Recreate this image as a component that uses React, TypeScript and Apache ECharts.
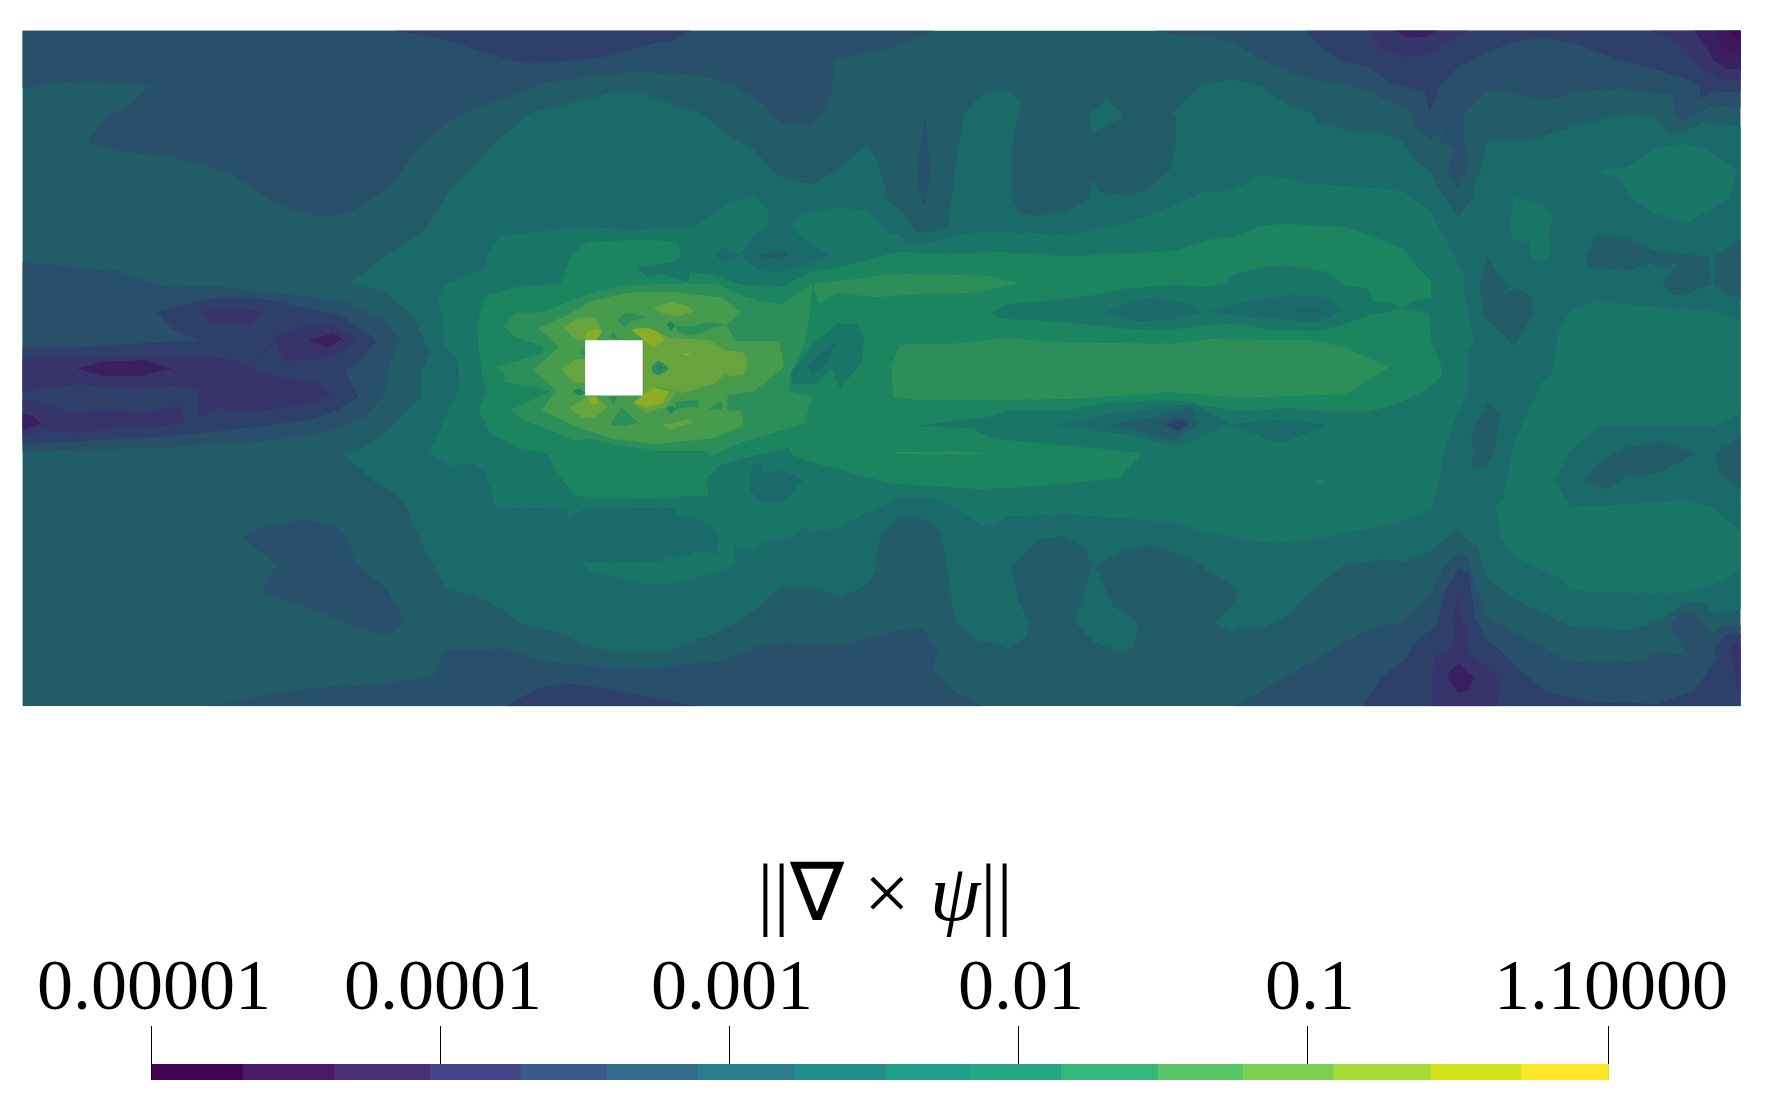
import React, { useEffect, useRef } from "react";
import * as echarts from "echarts";

// Contour levels of the field, darkest to lightest
const levelColors: Record<string, string> = {
  "-1": "#420a59", "0": "#3d1860", "1": "#3b2061", "2": "#36346a", "3": "#2e4069", "4": "#28506b", "5": "#225c69",
  "6": "#1b6a6a", "7": "#197666", "8": "#1c845f", "9": "#2c8f59", "10": "#479b4d", "11": "#67a43d", "12": "#8bae26",
};

// Domain extents (x from 20 to 1540.5, y from 27 to 625)
const domainX = [20, 1540.5];
const domainY = [27, 625];
const domain = [20,27, 1541,27, 1541,625, 20,625];
const obstacle = [518,301, 569,301, 569,350, 518,350];

// Contour regions: flat x,y lists in domain coordinates
const l4TopLeft = [20,27, 827,27, 790,43, 739,52, 736,84, 727,102, 718,113, 708,110, 693,110, 683,102, 678,93, 647,75, 627,68, 566,63, 522,68, 481,74, 451,86, 420,96, 397,108, 373,128, 346,164, 322,181, 308,189, 288,192, 261,187, 241,178, 207,156, 180,146, 146,138, 102,133, 77,126, 95,103, 117,91, 132,76, 85,72, 44,74, 20,78];
const l4LeftWedge = [20,232, 68,236, 105,240, 139,252, 166,254, 197,254, 237,258, 271,262, 305,267, 339,282, 354,301, 346,319, 339,351, 322,369, 295,381, 247,389, 170,395, 20,400];
const l4Blob = [214,475, 237,465, 268,460, 295,464, 307,474, 315,497, 325,508, 342,520, 359,551, 344,562, 314,555, 292,545, 232,525, 237,511, 245,500];
const l4BottomMid = [183,625, 254,611, 346,604, 383,599, 393,575, 447,574, 485,586, 522,589, 566,592, 620,587, 644,584, 671,571, 695,568, 746,570, 790,559, 817,556, 830,575, 826,592, 842,610, 869,625];
const l4TopRight = [1024,27, 1037,31, 1068,32, 1091,37, 1110,49, 1139,63, 1166,72, 1190,74, 1217,83, 1227,89, 1247,96, 1254,114, 1266,124, 1278,115, 1274,126, 1287,130, 1282,151, 1291,167, 1301,142, 1296,125, 1296,112, 1295,102, 1317,80, 1339,83, 1367,88, 1381,87, 1393,82, 1434,78, 1457,83, 1483,84, 1482,100, 1486,106, 1491,106, 1515,94, 1541,95, 1541,27];
const l4BottomRight = [1093,625, 1135,601, 1203,561, 1220,554, 1240,551, 1268,523, 1278,502, 1291,489, 1300,493, 1301,502, 1317,546, 1339,559, 1390,585, 1423,586, 1451,585, 1467,577, 1493,579, 1478,551, 1491,542, 1501,542, 1517,562, 1522,554, 1541,553, 1541,625];
const l3TopLeft = [349,27, 390,34, 427,46, 464,56, 492,55, 522,52, 542,49, 583,37, 593,37, 612,27];
const l3TopRight = [1156,27, 1171,44, 1186,53, 1213,60, 1232,74, 1261,81, 1266,99, 1274,77, 1291,59, 1315,47, 1342,37, 1366,33, 1393,38, 1434,53, 1471,63, 1491,69, 1505,77, 1505,87, 1518,81, 1541,81, 1541,27];
const l3Left = [20,307, 58,308, 102,305, 176,301, 153,292, 139,276, 173,267, 197,263, 231,264, 264,271, 302,279, 334,301, 314,324, 305,327, 317,351, 295,365, 271,372, 200,381, 136,387, 20,393];
const l3BottomA = [447,625, 475,610, 498,605, 522,607, 566,615, 617,625];
const l3BottomB = [1207,625, 1223,599, 1244,584, 1254,567, 1271,555, 1278,526, 1291,503, 1301,508, 1305,543, 1315,565, 1329,576, 1342,590, 1368,612, 1410,621, 1468,623, 1501,610, 1520,582, 1518,573, 1529,561, 1541,561, 1541,625];
const l2Top = [1212,27, 1223,44, 1244,51, 1267,47, 1300,27];
const l2TopRight = [1462,27, 1491,41, 1501,56, 1522,71, 1541,71, 1541,27];
const l2BlobA = [178,276, 197,271, 234,276, 220,289, 203,285, 186,286];
const l2BlobB = [222,323, 246,296, 271,288, 295,288, 315,301, 293,317, 251,320, 244,301];
const l2BandUpper = [20,317, 68,316, 118,314, 180,315, 210,319, 237,332, 281,338, 293,350, 275,357, 234,363, 207,365, 195,360, 176,370, 176,345, 153,341, 115,344, 71,340, 44,343, 20,347];
const l2BandLower = [20,353, 44,357, 58,364, 81,363, 108,363, 122,366, 159,359, 164,375, 119,378, 68,383, 37,381, 20,387];
const l2Bottom = [1268,625, 1268,598, 1271,580, 1288,571, 1287,549, 1291,524, 1294,549, 1300,558, 1300,576, 1325,598, 1329,612, 1323,625];
const l2RightEdge = [1541,570, 1534,570, 1531,576, 1538,598, 1535,599, 1541,614];
const l1Top = [1235,27, 1244,32, 1261,33, 1274,27];
const l1TopRight = [1500,27, 1512,44, 1517,53, 1530,61, 1541,61, 1541,27];
const l1PeakA = [273,301, 295,295, 303,300, 290,308];
const l1PeakB = [68,326, 92,320, 129,319, 152,326, 122,333, 92,333];
const l1PeakC = [20,366, 29,368, 37,375, 20,380];
const l1Bottom = [1282,595, 1292,587, 1305,599, 1301,611, 1291,613, 1283,602];
const l0Corner = [1518,27, 1525,43, 1541,50, 1541,27];
const lMinusCorner = [1531,27, 1534,32, 1541,37, 1541,27];
const l6Main = [309,251, 342,226, 375,205, 386,189, 397,170, 441,124, 470,100, 532,85, 542,81, 566,82, 590,91, 620,100, 641,117, 668,133, 688,155, 708,162, 720,162, 741,151, 768,128, 776,142, 783,162, 786,177, 802,190, 810,205, 820,206, 839,201, 849,127, 854,100, 868,84, 891,78, 904,90, 896,128, 896,175, 905,190, 919,191, 944,187, 964,176, 968,158, 973,170, 997,173, 1017,168, 1036,150, 1041,127, 1041,102, 1037,102, 1064,75, 1091,70, 1117,77, 1135,90, 1161,100, 1166,108, 1200,117, 1217,116, 1242,125, 1252,142, 1266,150, 1274,168, 1291,192, 1304,176, 1306,161, 1311,150, 1316,125, 1344,125, 1366,121, 1393,111, 1440,101, 1466,103, 1476,117, 1490,117, 1508,108, 1541,112, 1541,539, 1517,543, 1508,533, 1491,533, 1471,548, 1442,558, 1390,554, 1342,531, 1317,512, 1308,483, 1298,478, 1291,467, 1268,487, 1242,497, 1222,495, 1190,500, 1156,527, 1142,543, 1118,556, 1098,556, 1091,559, 1074,551, 1091,536, 1096,525, 1091,517, 1068,505, 1064,499, 1037,488, 1019,482, 997,487, 969,500, 985,536, 1008,551, 1003,573, 993,577, 968,568, 952,551, 967,500, 959,483, 942,475, 919,477, 895,502, 902,534, 912,551, 908,564, 893,574, 875,567, 868,568, 846,551, 839,508, 834,475, 829,465, 814,458, 795,457, 780,474, 776,493, 776,502, 769,517, 744,528, 717,519, 691,520, 658,548, 630,562, 590,576, 549,577, 522,572, 492,559, 461,552, 446,540, 420,527, 395,521, 376,487, 359,447, 346,434, 329,425, 320,415, 302,401, 322,396, 346,379, 373,351, 373,327, 381,313, 366,280, 339,257];
const l5SpikeA = [1317,226, 1325,242, 1335,252, 1331,261, 1341,255, 1355,261, 1358,277, 1341,306, 1314,280, 1310,251];
const l5PocketB = [1415,206, 1440,211, 1466,222, 1513,227, 1515,251, 1491,261, 1481,261, 1472,251, 1486,232, 1467,237, 1461,232, 1441,240, 1406,236, 1404,226];
const l5EdgeC = [1541,212, 1518,227, 1517,251, 1529,261, 1541,264];
const l5PocketD = [1402,425, 1417,408, 1440,396, 1468,390, 1503,401, 1466,419, 1445,422, 1440,418, 1434,427, 1422,433];
const l5EdgeE = [1541,385, 1519,402, 1522,419, 1541,433];
const l5PocketF = [1317,356, 1328,365, 1323,400, 1316,413, 1302,415, 1305,399, 1302,390, 1306,377];
const l5Left = [403,326, 424,321, 422,330, 406,336, 405,340];
const l4Needle = [819,102, 824,150, 819,183, 813,168, 812,150];
const l6Islet = [963,102, 980,88, 995,102, 986,108, 968,117];
const l7Central = [395,251, 417,243, 432,237, 430,227, 444,208, 481,205, 508,201, 532,201, 556,204, 583,201, 614,201, 647,178, 668,174, 680,187, 680,201, 700,201, 707,190, 742,183, 768,187, 786,206, 793,206, 803,215, 819,215, 841,211, 864,205, 905,206, 942,208, 976,202, 1003,196, 1027,187, 1037,183, 1066,170, 1091,169, 1117,155, 1142,158, 1159,163, 1196,165, 1240,168, 1266,186, 1278,209, 1297,245, 1296,257, 1305,301, 1300,310, 1300,336, 1298,349, 1286,377, 1278,399, 1274,425, 1268,451, 1240,462, 1142,481, 1118,480, 1066,471, 1037,462, 997,459, 941,455, 893,457, 880,464, 869,465, 849,450, 827,441, 795,441, 756,459, 744,467, 720,470, 710,467, 702,475, 675,481, 668,488, 650,483, 651,500, 641,505, 593,517, 569,516, 522,506, 514,494, 522,498, 583,497, 590,493, 608,492, 619,487, 634,490, 636,477, 630,464, 612,457, 602,459, 597,450, 532,449, 519,450, 503,458, 502,449, 447,450, 436,446, 437,438, 429,418, 420,411, 395,412, 380,400, 407,344, 405,320, 393,304, 392,279, 388,267];
const l7BlobTR = [1415,151, 1440,148, 1466,131, 1491,127, 1510,132, 1538,151, 1530,177, 1491,198, 1466,189, 1444,176, 1434,158];
const l7Patch = [1340,175, 1366,181, 1375,192, 1371,204, 1372,226, 1366,232, 1355,227, 1354,214, 1340,212, 1336,201];
const l7Right = [1391,274, 1415,265, 1423,268, 1481,273, 1515,275, 1541,284, 1541,366, 1518,377, 1416,377, 1390,399, 1377,425, 1391,449, 1413,447, 1420,448, 1491,442, 1517,450, 1541,471, 1541,504, 1518,517, 1491,524, 1464,525, 1391,523, 1381,511, 1356,500, 1342,493, 1329,475, 1324,450, 1331,440, 1341,390, 1366,337, 1374,332, 1376,319, 1378,307, 1379,295];
const l6PocketA = [657,224, 668,207, 680,201, 700,201, 715,214, 735,226, 693,241, 671,239, 659,230];
const l6PocketB = [634,226, 639,219, 656,226, 641,233];
const l5Sliver = [669,226, 695,221, 698,226, 688,229];
const l6PocketC = [664,425, 666,412, 675,410, 675,419, 693,416, 711,425, 694,444, 674,444, 664,434];
const l8Main = [422,289, 430,261, 458,254, 497,251, 505,226, 520,214, 571,212, 600,214, 603,226, 595,232, 563,237, 573,245, 583,242, 609,249, 611,241, 630,243, 656,252, 692,254, 719,240, 746,236, 793,223, 841,225, 881,223, 949,227, 1003,224, 1041,222, 1071,212, 1093,210, 1115,200, 1140,198, 1193,201, 1242,220, 1254,236, 1267,248, 1267,264, 1251,266, 1242,273, 1265,277, 1267,301, 1276,324, 1277,332, 1262,346, 1237,357, 1210,365, 1179,365, 1142,361, 1095,364, 1057,357, 1037,354, 980,356, 946,363, 892,363, 875,369, 810,377, 861,379, 878,388, 963,396, 1012,401, 991,423, 912,431, 869,433, 790,428, 729,412, 702,403, 698,396, 656,406, 637,412, 625,424, 627,438, 580,441, 522,440, 509,438, 495,421, 485,402, 458,396, 434,384, 424,363, 430,344, 426,328];
const l7Streak = [878,276, 893,269, 942,265, 976,260, 997,255, 1041,252, 1068,254, 1084,251, 1093,243, 1117,236, 1140,235, 1176,241, 1188,251, 1211,256, 1216,267, 1229,267, 1242,273, 1213,279, 1186,288, 1167,293, 1125,292, 1095,286, 1064,288, 1037,292, 997,291, 942,285, 886,282];
const l6StreakA = [978,276, 1003,266, 1027,264, 1054,270, 1066,276, 1051,279, 1037,283, 1010,285, 990,280];
const l6StreakB = [1069,276, 1091,270, 1115,265, 1142,261, 1179,263, 1188,275, 1167,285, 1139,283, 1091,279];
const l5SliverB = [1145,276, 1166,273, 1171,276, 1159,277];
const l7Hump = [707,322, 720,304, 742,286, 759,286, 765,301, 763,320, 744,344, 736,326, 722,340, 702,340, 700,328];
const l6Hump = [715,325, 725,313, 742,301, 729,325, 719,330];
const l6LowerA = [932,376, 959,371, 990,365, 1024,361, 1057,357, 1068,364, 1090,375, 1068,385, 1042,396, 1025,391, 1000,385, 975,382];
const l6LowerB = [1090,375, 1142,371, 1174,376, 1161,382, 1140,390, 1123,390, 1112,384, 1090,377];
const l5Lower = [980,376, 1003,372, 1024,369, 1054,360, 1062,375, 1047,385, 1040,390, 1027,388, 1003,380];
const l4Lower = [1027,375, 1041,370, 1054,372, 1044,382];
const l3Lower = [1033,375, 1043,372, 1053,375, 1043,381];
const l8Fleck = [1161,425, 1176,425, 1166,428];
const l9Central = [456,277, 481,276, 508,265, 532,257, 556,252, 610,251, 634,251, 656,261, 675,267, 693,269, 719,251, 717,277, 712,307, 700,330, 698,346, 719,351, 712,375, 698,379, 658,391, 630,403, 624,399, 583,399, 542,393, 522,388, 509,390, 488,381, 464,372, 451,363, 488,346, 446,338, 447,331, 437,325, 480,313, 481,307, 456,298, 446,289];
const l9Upper = [720,251, 766,246, 790,242, 875,244, 903,251, 861,259, 800,261, 776,263, 742,259, 725,269];
const l9Slab = [797,305, 844,304, 891,299, 942,303, 1037,304, 1071,300, 1162,301, 1190,307, 1230,325, 1191,349, 1098,352, 1037,347, 946,353, 885,354, 813,354, 791,352, 789,325];
const l9Thread = [793,400, 810,400, 845,399, 868,400, 868,401, 845,402, 793,401];
const l8Triangle = [470,341, 477,344, 470,349];
const l10Central = [476,290, 502,279, 522,267, 555,259, 590,258, 639,263, 656,276, 643,288, 652,302, 690,302, 694,325, 668,346, 644,350, 644,363, 656,363, 658,377, 630,388, 580,393, 542,388, 513,379, 480,363, 492,345, 472,327, 495,307];
const l11Wake = [569,309, 569,300, 560,290, 574,290, 584,295, 593,299, 628,301, 642,310, 658,312, 662,321, 658,332, 646,333, 642,330, 634,339, 603,348, 592,345, 581,343, 571,351, 561,357, 572,365, 590,360, 600,345, 569,350];
const l11UpLeft = [499,290, 512,281, 527,281, 533,293, 519,301, 510,301];
const l11Left = [497,327, 509,318, 519,318, 519,339, 507,338];
const l11LowLeft = [504,361, 520,351, 528,351, 538,360, 527,370, 515,370];
const l11Top = [578,273, 593,267, 611,271, 614,276, 599,280, 586,277];
const l11Bottom = [586,376, 611,371, 613,374, 593,380];
const l12A = [519,295, 527,291, 533,293, 528,301, 519,301];
const l12B = [559,292, 574,290, 584,295, 588,301, 578,308, 569,300];
const l12C = [561,356, 578,343, 592,346, 587,357, 571,360];
const l12D = [520,351, 528,351, 530,357, 524,358];
const l12E = [603,312, 613,313, 608,315];
const l9PocketA = [546,283, 555,276, 574,281, 558,284, 553,290];
const l8PocketA = [590,287, 594,284, 598,288, 594,293];
const l9Wave = [598,288, 612,289, 628,285, 643,287, 625,293, 612,297, 600,294];
const l9PocketB = [577,324, 583,319, 590,323, 592,327, 584,332, 578,330];
const l8PocketB = [580,325, 584,322, 587,325, 584,329];
const l9PocketC = [540,376, 550,360, 565,374, 552,377];
const l8PocketC = [590,361, 594,359, 599,362, 594,366];
const l9PocketD = [598,356, 618,353, 619,360, 605,361, 599,362];
const l9PocketE = [627,362, 639,355, 639,363];
const l9PocketF = [538,299, 543,294, 547,300];
const l9PocketG = [538,351, 547,351, 543,358];
const l9PocketH = [513,311, 519,310, 519,317];
const l8PocketD = [507,346, 512,344, 519,348, 512,350];

const regions: [number, number[]][] = [
  [5, domain],
  [4, l4TopLeft], [4, l4LeftWedge], [4, l4Blob], [4, l4BottomMid], [4, l4TopRight], [4, l4BottomRight],
  [3, l3TopLeft], [3, l3TopRight], [3, l3Left], [3, l3BottomA], [3, l3BottomB],
  [2, l2Top], [2, l2TopRight], [2, l2BlobA], [2, l2BlobB], [2, l2BandUpper], [2, l2BandLower], [2, l2Bottom], [2, l2RightEdge],
  [1, l1Top], [1, l1TopRight], [1, l1PeakA], [1, l1PeakB], [1, l1PeakC], [1, l1Bottom],
  [0, l0Corner], [-1, lMinusCorner],
  [4, l4Needle],
  [6, l6Main], [6, l6Islet],
  [5, l5SpikeA], [5, l5PocketB], [5, l5EdgeC], [5, l5PocketD], [5, l5EdgeE], [5, l5PocketF], [5, l5Left],
  [7, l7Central], [7, l7BlobTR], [7, l7Patch], [7, l7Right],
  [6, l6PocketA], [6, l6PocketB], [5, l5Sliver], [6, l6PocketC],
  [8, l8Main],
  [7, l7Streak], [6, l6StreakA], [6, l6StreakB], [5, l5SliverB],
  [7, l7Hump], [6, l6Hump],
  [6, l6LowerA], [6, l6LowerB], [5, l5Lower], [4, l4Lower], [3, l3Lower], [8, l8Fleck],
  [9, l9Central], [9, l9Upper], [9, l9Slab], [9, l9Thread], [8, l8Triangle],
  [10, l10Central],
  [11, l11Wake], [11, l11UpLeft], [11, l11Left], [11, l11LowLeft], [11, l11Top], [11, l11Bottom],
  [12, l12A], [12, l12B], [12, l12C], [12, l12D], [12, l12E],
  [9, l9PocketA], [8, l8PocketA], [9, l9Wave], [9, l9PocketB], [8, l8PocketB], [9, l9PocketC], [8, l8PocketC],
  [9, l9PocketD], [9, l9PocketE], [9, l9PocketF], [9, l9PocketG], [9, l9PocketH], [8, l8PocketD],
];

// Colour bar: log10 edges, swatches, ticks
const barEdges = [-5, -4.684, -4.369, -4.037, -3.723, -3.426, -3.111, -2.774, -2.462, -2.169, -1.853, -1.518, -1.224, -0.91, -0.575, -0.26, 0.0414];
const barColors = ["#440154", "#481a6c", "#482f76", "#42458a", "#3a5a8c", "#2f6c8e", "#2b7c8e", "#228c8d", "#1f9e89", "#23a883", "#35b779", "#56c667", "#7ad151", "#a5db36", "#d2e21b", "#fde725"];
const tickValues = [-5, -4, -3, -2, -1, 0.0414];
const tickLabels = ["0.00001", "0.0001", "0.001", "0.01", "0.1", "1.10000"];

const FONT = "'Liberation Serif', serif";

export default function App() {
  const ref = useRef<HTMLDivElement>(null);
  useEffect(() => {
    document.body.style.margin = "0";
    const chart = echarts.init(ref.current!, undefined, { renderer: "svg" });
    const all: [number, number[]][] = [...regions, [-99, obstacle]];
    chart.setOption({
      animation: false,
      backgroundColor: "#ffffff",
      title: {
        text: "{n|||∇ × }{i|ψ}{n|||}",
        left: 880,
        top: 847,
        textAlign: "center",
        textStyle: {
          fontWeight: "normal",
          rich: {
            n: { fontFamily: FONT, fontSize: 81, fontWeight: "normal", color: "#000" },
            i: { fontFamily: FONT, fontSize: 81, fontStyle: "italic", fontWeight: "normal", color: "#000" },
          },
        },
      },
      grid: [
        { left: 22.6, right: 32, top: 30.5, bottom: 407.7 },
        { left: 151.5, width: 1457, top: 1064, height: 18 },
      ],
      xAxis: [
        { gridIndex: 0, type: "value", min: domainX[0], max: domainX[1], show: false },
        {
          gridIndex: 1,
          type: "value",
          min: -5,
          max: 0.0414,
          splitLine: { show: false },
          axisLine: { show: false },
          axisTick: { show: true, inside: true, length: 54, customValues: tickValues, lineStyle: { color: "#000", width: 1 } },
          axisLabel: {
            show: true,
            inside: true,
            margin: 61,
            customValues: tickValues,
            hideOverlap: false,
            showMinLabel: true,
            showMaxLabel: true,
            fontFamily: FONT,
            fontSize: 72,
            color: "#000",
            padding: [0, 0, 0, 5],
            formatter: (v: number) => tickLabels[tickValues.indexOf(v)] ?? "",
          },
        },
      ],
      yAxis: [
        { gridIndex: 0, type: "value", min: domainY[0], max: domainY[1], inverse: true, show: false },
        { gridIndex: 1, type: "value", min: -0.125, max: 1, show: false },
      ],
      series: [
        {
          type: "custom",
          xAxisIndex: 0,
          yAxisIndex: 0,
          silent: true,
          clip: true,
          data: all.map((_, i) => [domainX[0], domainY[0], i]),
          encode: { x: 0, y: 1 },
          renderItem: (params: any, api: any) => {
            const [level, flat] = all[params.dataIndex];
            const points: number[][] = [];
            for (let i = 0; i < flat.length; i += 2) points.push(api.coord([flat[i], flat[i + 1]]));
            return {
              type: "polygon",
              shape: { points },
              style: { fill: level === -99 ? "#ffffff" : levelColors[String(level)], stroke: "none" },
            };
          },
          z: 2,
        },
        {
          type: "custom",
          xAxisIndex: 1,
          yAxisIndex: 1,
          silent: true,
          data: barColors.map((_, i) => [barEdges[i], barEdges[barEdges.length - 1], i]),
          encode: { x: [0, 1] },
          renderItem: (params: any, api: any) => {
            const a = api.coord([api.value(0), 1]);
            const b = api.coord([api.value(1), 0]);
            return {
              type: "rect",
              shape: { x: a[0], y: a[1], width: b[0] - a[0], height: b[1] - a[1] },
              style: { fill: barColors[params.dataIndex], stroke: "none" },
            };
          },
          z: 1,
        },
      ],
    });
    return () => chart.dispose();
  }, []);
  return <div ref={ref} style={{ width: 1772, height: 1114 }} />;
}
